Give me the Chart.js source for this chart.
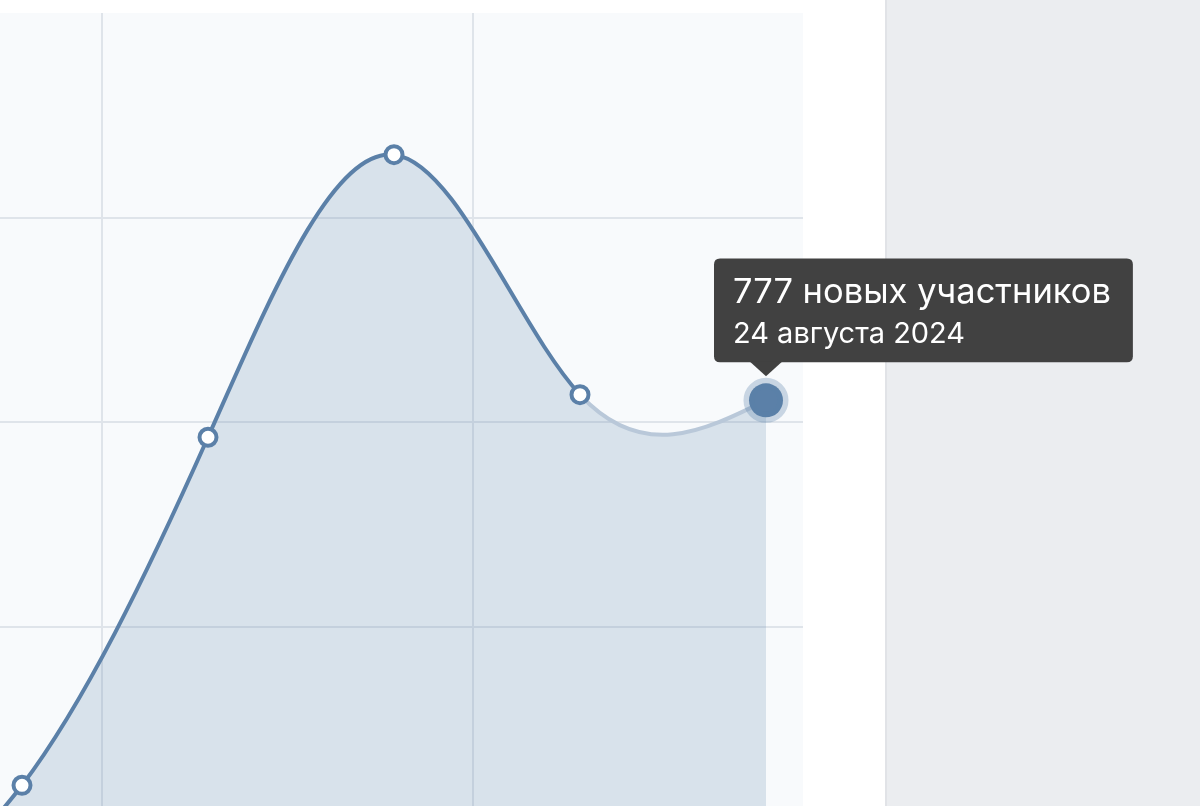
<!DOCTYPE html>
<html lang="ru">

<head>
    <meta charset="UTF-8">
    <title>Новые участники</title>
    <style>
        html, body {
            margin: 0;
            padding: 0;
            background: #ffffff;
            overflow: hidden;
        }

        #sidePanel {
            position: absolute;
            left: 885px;
            top: 0;
            width: 315px;
            height: 806px;
            background: #ebedf0;
            border-left: 2px solid #e1e3e7;
            box-sizing: border-box;
            z-index: 0;
        }

        #wrap {
            position: absolute;
            left: 0;
            top: 0;
            width: 1200px;
            height: 806px;
            z-index: 1;
        }
    </style>
</head>

<body>
    <div id="sidePanel"></div>
    <div id="wrap">
        <canvas id="membersChart"></canvas>
    </div>

    <script src="https://cdn.jsdelivr.net/npm/chart.js"></script>
    <script>
        // first entry sits off the left edge of the crop
        const dates = ["19 августа 2024", "20 августа 2024", "21 августа 2024", "22 августа 2024", "23 августа 2024", "24 августа 2024"];
        const xPositions = [-1, 0, 1, 2, 3, 4];
        const newMembers = [120, 307, 732, 1077, 784, 777];
        const xGridTicks = [0.43, 2.425];
        const yGridTicks = [500, 750, 1000];

        const lineColor = '#5b80a8';
        const fadedLine = '#b9c8d9';
        const activeIndex = newMembers.length - 1;

        // light background only inside the plot area
        const areaBackground = {
            id: 'areaBackground',
            beforeDraw(chart) {
                const { ctx, chartArea } = chart;
                ctx.save();
                ctx.fillStyle = '#f8fafc';
                ctx.fillRect(chartArea.left, chartArea.top, chartArea.right - chartArea.left, chartArea.bottom - chartArea.top);
                ctx.restore();
            }
        };

        // natural cubic spline instead of the default bezier tension
        // (control points are worked out from the element pixel positions)
        function applyNaturalSpline(pts) {
            const n = pts.length;
            if (n < 3) return;
            const M = new Array(n).fill(0);
            const cp = new Array(n).fill(0);
            const dp = new Array(n).fill(0);
            for (let i = 1; i < n - 1; i++) {
                const rhs = 6 * (pts[i + 1].y - 2 * pts[i].y + pts[i - 1].y);
                const denom = 4 - (i > 1 ? cp[i - 1] : 0);
                cp[i] = 1 / denom;
                dp[i] = (rhs - (i > 1 ? dp[i - 1] : 0)) / denom;
            }
            for (let i = n - 2; i >= 1; i--) {
                M[i] = dp[i] - cp[i] * M[i + 1];
            }
            for (let i = 0; i < n - 1; i++) {
                const a = pts[i], b = pts[i + 1];
                const dx = b.x - a.x;
                const dy = b.y - a.y;
                const s0 = dy - (2 * M[i] + M[i + 1]) / 6;
                const s1 = dy + (M[i] + 2 * M[i + 1]) / 6;
                a.cp2x = a.x + dx / 3;
                a.cp2y = a.y + s0 / 3;
                b.cp1x = b.x - dx / 3;
                b.cp1y = b.y - s1 / 3;
            }
            pts[0].cp1x = pts[0].x; pts[0].cp1y = pts[0].y;
            pts[n - 1].cp2x = pts[n - 1].x; pts[n - 1].cp2y = pts[n - 1].y;
        }

        const naturalCurve = {
            id: 'naturalCurve',
            beforeDatasetsDraw(chart) {
                chart.getSortedVisibleDatasetMetas().forEach(meta => {
                    const line = meta.dataset;
                    if (!line) return;
                    line.updateControlPoints(chart.chartArea, 'x');
                    applyNaturalSpline(line.points);
                });
            }
        };

        // small arrow under the tooltip box, pointing at the hovered point
        const tooltipCaret = {
            id: 'tooltipCaret',
            afterDraw(chart) {
                const tt = chart.tooltip;
                const active = chart.getActiveElements();
                if (!tt || !tt.opacity || !active.length) return;
                const px = active[0].element.x;
                const baseY = tt.y + tt.height;
                const ctx = chart.ctx;
                ctx.save();
                ctx.fillStyle = '#414141';
                ctx.beginPath();
                ctx.moveTo(px - 16, baseY - 0.5);
                ctx.lineTo(px + 16, baseY - 0.5);
                ctx.lineTo(px, baseY + 14);
                ctx.closePath();
                ctx.fill();
                ctx.restore();
            }
        };

        Chart.Tooltip.positioners.pinned = function (elements) {
            if (!elements.length) return false;
            const el = elements[0].element;
            return { x: el.x - 46, y: el.y };
        };

        const points = xPositions.map((x, i) => ({ x: x, y: newMembers[i] }));

        const ctx = document.getElementById('membersChart').getContext('2d');
        const chart = new Chart(ctx, {
            type: 'line',
            data: {
                datasets: [{
                    // the line and its points
                    data: points,
                    borderColor: lineColor,
                    borderWidth: 4,
                    fill: false,
                    tension: 0.4,
                    pointRadius: 8.5,
                    pointBorderWidth: 4,
                    pointBackgroundColor: '#ffffff',
                    pointBorderColor: lineColor,
                    pointHoverRadius: 17,
                    pointHoverBorderWidth: 11,
                    pointHoverBackgroundColor: lineColor,
                    pointHoverBorderColor: 'rgba(91, 128, 168, 0.3)',
                    segment: {
                        borderColor: c => c.p0DataIndex === activeIndex - 1 ? fadedLine : undefined
                    }
                }, {
                    // area under the line, in one piece
                    data: points,
                    borderWidth: 0,
                    borderColor: 'rgba(0,0,0,0)',
                    backgroundColor: 'rgba(91, 128, 168, 0.2)',
                    fill: 'start',
                    tension: 0.4,
                    pointRadius: 0,
                    pointHoverRadius: 0
                }]
            },
            options: {
                responsive: true,
                maintainAspectRatio: false,
                animation: false,
                events: [],
                layout: {
                    autoPadding: false,
                    padding: { top: 13, right: 397, bottom: 0, left: 0 }
                },
                scales: {
                    x: {
                        type: 'linear',
                        min: -22 / 186,
                        max: 781 / 186,
                        afterBuildTicks: scale => { scale.ticks = xGridTicks.map(v => ({ value: v })); },
                        ticks: { display: false },
                        border: { display: false },
                        grid: { color: '#dfe4ea', lineWidth: 2, drawTicks: false }
                    },
                    y: {
                        min: 281.7,
                        max: 1250,
                        afterBuildTicks: scale => { scale.ticks = yGridTicks.map(v => ({ value: v })); },
                        ticks: { display: false },
                        border: { display: false },
                        grid: { color: '#dfe4ea', lineWidth: 2, drawTicks: false }
                    }
                },
                plugins: {
                    legend: { display: false },
                    tooltip: {
                        position: 'pinned',
                        xAlign: 'left',
                        yAlign: 'bottom',
                        caretSize: 0,
                        caretPadding: 38,
                        cornerRadius: 6,
                        backgroundColor: '#414141',
                        displayColors: false,
                        padding: { top: 13, bottom: 11, left: 19, right: 22 },
                        titleFont: { family: 'Inter, "Noto Sans", sans-serif', size: 34.5, weight: 'normal', lineHeight: 1.2 },
                        bodyFont: { family: 'Inter, "Noto Sans", sans-serif', size: 29, weight: 'normal', lineHeight: 1.15 },
                        titleColor: '#ffffff',
                        bodyColor: '#ffffff',
                        titleMarginBottom: 5,
                        callbacks: {
                            title: items => `${newMembers[items[0].dataIndex]} новых участников`,
                            label: item => dates[item.dataIndex]
                        }
                    }
                }
            },
            plugins: [areaBackground, naturalCurve, tooltipCaret]
        });

        const activeEls = [{ datasetIndex: 0, index: activeIndex }];
        const meta = chart.getDatasetMeta(0).data[activeIndex];
        chart.setActiveElements(activeEls);
        chart.tooltip.setActiveElements(activeEls, { x: meta.x, y: meta.y });
        chart.update('none');
    </script>
</body>

</html>
